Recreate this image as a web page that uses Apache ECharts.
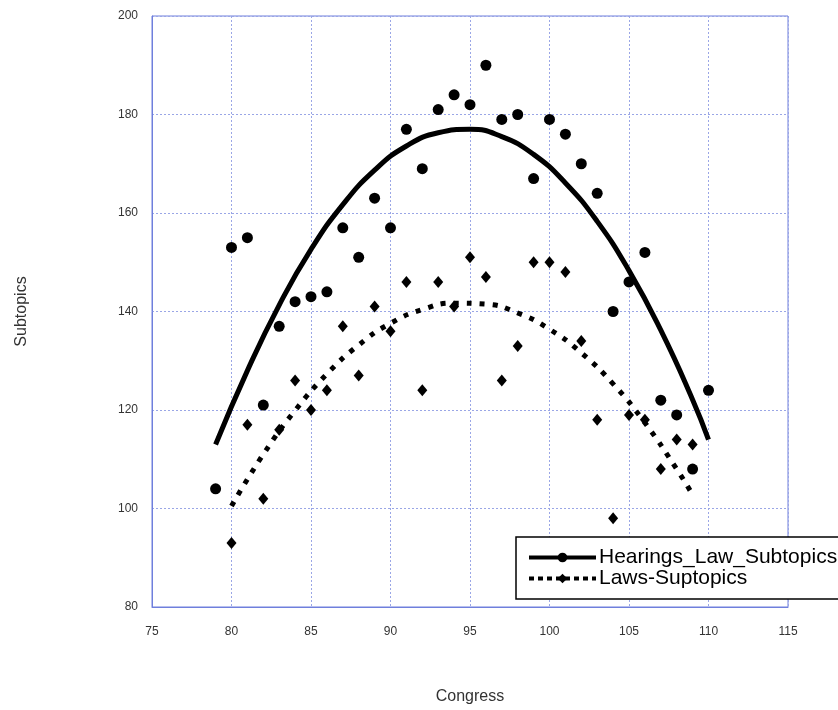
<!DOCTYPE html>
<html>
<head>
<meta charset="utf-8">
<script src="https://cdn.jsdelivr.net/npm/echarts@6/dist/echarts.min.js"></script>
<style>html,body{margin:0;padding:0;background:#fff;}#c{width:838px;height:710px;}</style>
</head>
<body>
<div id="c"></div>
<script>
// Observed points
const hearingsCongress = [79,80,81,82,83,84,85,86,87,88,89,90,91,92,93,94,95,96,97,98,99,100,101,102,103,104,105,106,107,108,109,110];
const hearingsValues   = [104,153,155,121,137,142,143,144,157,151,163,157,177,169,181,184,182,190,179,180,167,179,176,170,164,140,146,152,122,119,108,124];
const lawsCongress = [80,81,82,83,84,85,86,87,88,89,90,91,92,93,94,95,96,97,98,99,100,101,102,103,104,105,106,107,108,109];
const lawsValues   = [93,117,102,116,126,120,124,137,127,141,136,146,124,146,141,151,147,126,133,150,150,148,134,118,98,119,118,108,114,113];
// Trend curves
const hearingsTrendX = [79,81,83,85,87,89,91,93,95,97,99,101,103,105,107,109,110];
const hearingsTrendY = [113,128,141.3,152.6,161.7,168.7,173.6,176.3,177,175.5,171.9,166.1,158.3,148.3,136.2,122.1,114];
const lawsTrendX = [80,82,84,86,88,90,92,94,96,98,100,102,104,106,108,109];
const lawsTrendY = [100.5,111,119.9,127.3,133.2,137.6,140.4,141.7,141.5,139.7,136.4,131.6,125.3,117.4,108,102.8];
const xTicks = {min:75, max:115, interval:5};
const yTicks = {min:80, max:200, interval:20};
const seriesNames = ['Hearings_Law_Subtopics', 'Laws-Suptopics'];

const zip = (xs, ys) => xs.map((x, i) => [x, ys[i]]);
const chart = echarts.init(document.getElementById('c'));
const gridColor = '#9aa6e6';
const borderColor = '#6f7fdc';
chart.setOption({
  animation: false,
  backgroundColor: '#fff',
  grid: {left: 152, right: 50, top: 16, bottom: 102, show: true, borderColor: borderColor, borderWidth: 1},
  xAxis: {
    type: 'value', min: xTicks.min, max: xTicks.max, interval: xTicks.interval,
    name: 'Congress', nameLocation: 'middle', nameGap: 82,
    nameTextStyle: {fontFamily: 'Liberation Sans', fontSize: 16, color: '#333'},
    axisLine: {show: true, lineStyle: {color: borderColor, width: 1}},
    axisTick: {show: false},
    axisLabel: {fontFamily: 'Liberation Sans', fontSize: 12, color: '#333', margin: 19},
    splitLine: {show: true, lineStyle: {color: gridColor, type: [2, 2], width: 1}}
  },
  yAxis: {
    type: 'value', min: yTicks.min, max: yTicks.max, interval: yTicks.interval,
    name: 'Subtopics', nameLocation: 'middle', nameGap: 122, nameRotate: 90,
    nameTextStyle: {fontFamily: 'Liberation Sans', fontSize: 16, color: '#333'},
    axisLine: {show: true, lineStyle: {color: borderColor, width: 1}},
    axisTick: {show: false},
    axisLabel: {fontFamily: 'Liberation Sans', fontSize: 12, color: '#333', margin: 14},
    splitLine: {show: true, lineStyle: {color: gridColor, type: [2, 2], width: 1}}
  },
  legend: {
    orient: 'vertical', left: 516, top: 537,
    data: [
      {name: seriesNames[0], lineStyle: {width: 4, type: 'solid'}},
      {name: seriesNames[1], lineStyle: {width: 4, type: [5, 4]}}
    ],
    itemWidth: 67, itemHeight: 12, itemGap: 0,
    padding: [10, 30, 10, 11],
    backgroundColor: '#fff', borderColor: '#000', borderWidth: 1.5, borderRadius: 0,
    textStyle: {fontFamily: 'Liberation Sans', fontSize: 21, color: '#000', padding: [0,0,0,-2]}
  },
  series: [
    {
      name: seriesNames[0], type: 'line', smooth: true,
      data: zip(hearingsTrendX, hearingsTrendY),
      symbol: 'circle', showSymbol: false, symbolSize: 11,
      lineStyle: {color: '#000', width: 5},
      itemStyle: {color: '#000'}, z: 3
    },
    {
      name: seriesNames[1], type: 'line', smooth: true,
      data: zip(lawsTrendX, lawsTrendY),
      symbol: 'diamond', showSymbol: false, symbolSize: 11,
      lineStyle: {color: '#000', width: 5, type: [5, 8]},
      itemStyle: {color: '#000'}, z: 3
    },
    {
      name: seriesNames[0], type: 'scatter',
      data: zip(hearingsCongress, hearingsValues),
      symbol: 'circle', symbolSize: 11,
      itemStyle: {color: '#000', opacity: 1}, z: 4
    },
    {
      name: seriesNames[1], type: 'scatter',
      data: zip(lawsCongress, lawsValues),
      symbol: 'diamond', symbolSize: [10, 12],
      itemStyle: {color: '#000', opacity: 1}, z: 4
    }
  ]
});
</script>
</body>
</html>
